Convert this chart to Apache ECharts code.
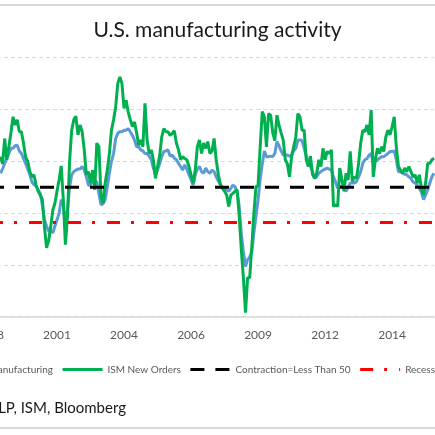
<!DOCTYPE html>
<html>
<head>
<meta charset="utf-8">
<title>U.S. manufacturing activity</title>
<script src="https://cdn.jsdelivr.net/npm/echarts/dist/echarts.min.js"></script>
<style>
    html, body { margin: 0; padding: 0; width: 435px; height: 435px; overflow: hidden; background: #fff; }
    #chart { position: absolute; left: -200px; top: 0; width: 835px; height: 435px; }
    #frame { position: absolute; left: -10px; top: 4px; width: 460px; height: 425px;
             border: 2px solid #d9d9d9; box-sizing: border-box; pointer-events: none; }
</style>
</head>
<body>
<div id="chart"></div>
<div id="frame"></div>
<script>
// monthly, first category Oct 1998; series start Mar 1999 (5 empty months before)
var firstYear = 1998, firstMonth = 10, monthCount = 213;
var leadEmpty = 5;

// ISM Manufacturing PMI, Mar 1999 .. Jun 2016
var ismManufacturing = [
    52.7, 53.5, 54.6, 55.5, 56.5, 57.5, 57.5, 58.0, 58.1, 57.0,              // 1999
    56.5, 55.5, 54.6, 53.5, 52.5, 51.0, 50.5, 50.2, 49.5, 48.8, 46.5, 43.7,  // 2000
    42.5, 41.5, 41.5, 41.2, 42.5, 43.7, 45.0, 47.6, 46.5, 43.0, 45.6, 50.0,  // 2001
    52.4, 53.0, 53.3, 53.5, 53.5, 54.0, 53.3, 52.0, 50.4, 50.4, 51.7, 51.4,  // 2002
    51.0, 48.8, 46.6, 46.8, 47.6, 50.1, 52.7, 55.0, 56.5, 59.4, 60.4, 60.7,  // 2003
    60.7, 61.0, 61.0, 61.3, 60.7, 60.0, 59.1, 57.8, 57.8, 57.2, 57.0, 56.5,  // 2004
    56.5, 56.0, 55.3, 53.7, 52.4, 53.3, 54.5, 55.9, 56.9, 57.0, 57.2, 56.0,  // 2005
    56.2, 55.6, 55.3, 54.6, 54.0, 53.3, 54.3, 53.5, 52.4, 51.5, 50.4, 52.4,  // 2006
    53.5, 54.0, 53.0, 52.7, 53.7, 53.0, 52.7, 53.3, 53.0, 52.0, 51.2, 50.5,  // 2007
    49.8, 49.5, 49.5, 49.2, 49.8, 50.4, 50.1, 49.0, 46.3, 41.0, 37.5, 34.7,  // 2008
    36.0, 36.5, 37.5, 41.2, 44.4, 47.6, 51.5, 54.5, 57.0, 55.9, 55.9, 56.0,  // 2009
    55.9, 56.5, 58.8, 58.0, 57.0, 56.2, 56.2, 56.2, 56.0, 56.2, 57.0, 57.5,  // 2010
    59.1, 59.1, 59.0, 57.5, 56.0, 54.6, 54.0, 53.0, 51.7, 52.0, 52.7, 53.0,  // 2011
    53.3, 53.5, 53.7, 53.5, 53.3, 52.0, 51.0, 49.8, 50.1, 50.2, 49.8, 49.2,  // 2012
    50.0, 50.8, 50.8, 50.8, 51.1, 52.0, 53.0, 54.6, 55.3, 55.5, 56.2, 56.5,  // 2013
    54.6, 55.0, 55.3, 55.6, 55.9, 55.9, 56.2, 56.5, 56.9, 56.9, 57.0, 55.3,  // 2014
    53.0, 53.0, 52.7, 52.5, 52.4, 52.0, 51.7, 51.0, 50.8, 50.4, 49.8, 49.0,  // 2015
    47.6, 48.5, 49.5, 50.8, 52.0, 52.7                                       // 2016
];

// ISM New Orders, Mar 1999 .. Jun 2016
var ismNewOrders = [
    55.9, 54.5, 59.4, 55.3, 57.8, 60.5, 63.6, 62.0, 63.0, 60.7,              // 1999
    60.7, 58.5, 55.8, 55.0, 53.0, 52.0, 52.4, 50.4, 49.2, 48.5, 47.6, 42.4,  // 2000
    38.3, 39.6, 42.4, 45.6, 46.9, 49.2, 51.5, 54.1, 47.6, 38.9, 44.4, 55.0,  // 2001
    61.0, 63.0, 63.7, 60.1, 62.0, 60.7, 57.2, 52.4, 53.0, 50.8, 53.3, 49.5,  // 2002
    58.5, 57.8, 48.2, 46.9, 50.8, 53.3, 56.5, 61.0, 63.0, 65.5, 70.0, 71.3,  // 2003
    70.0, 65.2, 66.8, 64.5, 63.0, 61.7, 62.6, 60.5, 58.1, 59.1, 57.8, 66.2,  // 2004
    59.1, 56.5, 57.2, 55.3, 51.7, 54.0, 56.0, 59.7, 61.3, 60.7, 60.7, 60.0,  // 2005
    60.4, 60.9, 58.5, 57.2, 55.3, 55.9, 55.5, 55.3, 54.0, 52.4, 50.8, 53.3,  // 2006
    57.8, 59.1, 56.5, 58.5, 57.5, 58.8, 56.5, 57.0, 59.4, 55.3, 52.5, 50.5,  // 2007
    49.8, 49.2, 48.5, 46.3, 48.5, 48.8, 49.2, 49.5, 44.4, 37.9, 32.5, 25.8,  // 2008
    32.5, 32.5, 38.5, 45.0, 50.1, 50.3, 57.8, 64.6, 63.6, 57.8, 64.2, 63.9,  // 2009
    60.5, 59.0, 63.9, 62.0, 60.5, 59.1, 55.3, 54.5, 52.0, 55.9, 57.8, 59.7,  // 2010
    64.2, 63.6, 61.0, 61.0, 55.3, 54.0, 56.0, 52.5, 51.7, 52.7, 55.3, 54.0,  // 2011
    57.5, 55.3, 56.9, 56.5, 57.2, 46.3, 46.6, 46.3, 53.7, 51.5, 49.2, 52.7,  // 2012
    51.4, 56.9, 51.1, 52.0, 51.7, 54.6, 58.5, 61.0, 60.7, 62.0, 60.1, 64.9,  // 2013
    52.0, 55.3, 57.5, 56.5, 57.8, 56.9, 59.7, 61.0, 60.1, 61.7, 63.6, 57.8,  // 2014
    54.0, 53.3, 52.7, 53.7, 53.0, 54.0, 53.0, 52.0, 52.4, 50.8, 52.4, 49.8,  // 2015
    48.5, 50.8, 54.6, 54.6, 55.3, 55.6                                       // 2016
];

var contractionLevel = 50;
var recessionLevel = 43.2;

var seriesNames = ['ISM Manufacturing', 'ISM New Orders', 'Contraction=Less Than 50', 'Recession=Less Than 43.2'];
var seriesColors = ['#5b9bd5', '#00b050', '#000000', '#ff0000'];

var months = [];
for (var k = 0; k < monthCount; k++) {
    var m = firstMonth - 1 + k;
    months.push((firstYear + Math.floor(m / 12)) + '-' + ('0' + (m % 12 + 1)).slice(-2));
}

function padLead(arr) {
    var out = [];
    for (var j = 0; j < leadEmpty; j++) out.push(null);
    return out.concat(arr);
}

var fontFamily = 'Lato, "Open Sans", sans-serif';

var chart = echarts.init(document.getElementById('chart'));
chart.setOption({
    animation: false,
    color: seriesColors,
    title: [{
        text: 'U.S. manufacturing activity',
        left: 'center',
        top: 15,
        textStyle: { fontFamily: fontFamily, fontSize: 21, fontWeight: 'normal', color: '#1a1a1a' }
    }, {
        text: 'Source: Advisors LLP, ISM, Bloomberg',
        right: 504,
        bottom: 14,
        textStyle: { fontFamily: fontFamily, fontSize: 15, fontWeight: 'normal', color: '#1a1a1a' }
    }],
    legend: {
        data: seriesNames,
        left: 117,
        top: 359,
        width: 800,
        itemWidth: 40,
        itemHeight: 14,
        itemGap: 8,
        itemStyle: { opacity: 0 },
        lineStyle: { width: 3 },
        textStyle: { fontFamily: fontFamily, fontSize: 10, color: '#595959' }
    },
    grid: {
        left: 190,
        right: 201,
        top: 57.7,
        bottom: 118.3,
        containLabel: false
    },
    xAxis: {
        type: 'category',
        data: months,
        boundaryGap: false,
        axisLine: { lineStyle: { color: '#d9d9d9', width: 1.5 } },
        axisTick: { show: false },
        axisLabel: {
            interval: 31,
            margin: 12,
            fontFamily: fontFamily,
            fontSize: 12,
            color: '#595959',
            formatter: function (v) { return v.slice(0, 4); }
        },
        splitLine: { show: false }
    },
    yAxis: {
        type: 'value',
        min: 25,
        max: 75,
        interval: 10,
        axisLine: { show: false },
        axisTick: { show: false },
        axisLabel: { fontFamily: fontFamily, fontSize: 12, color: '#595959' },
        splitLine: { lineStyle: { color: '#d9d9d9', type: [4, 3], width: 1 } }
    },
    series: [{
        name: seriesNames[0],
        type: 'line',
        data: padLead(ismManufacturing),
        symbol: 'none',
        lineStyle: { width: 3, color: seriesColors[0] }
    }, {
        name: seriesNames[1],
        type: 'line',
        data: padLead(ismNewOrders),
        symbol: 'none',
        lineStyle: { width: 3, color: seriesColors[1] }
    }, {
        name: seriesNames[2],
        type: 'line',
        data: months.map(function () { return contractionLevel; }),
        symbol: 'none',
        lineStyle: { width: 3, color: seriesColors[2], type: [14, 11] }
    }, {
        name: seriesNames[3],
        type: 'line',
        data: months.map(function () { return recessionLevel; }),
        symbol: 'none',
        lineStyle: { width: 3, color: seriesColors[3], type: [13, 11, 3, 12] }
    }]
});
</script>
</body>
</html>
